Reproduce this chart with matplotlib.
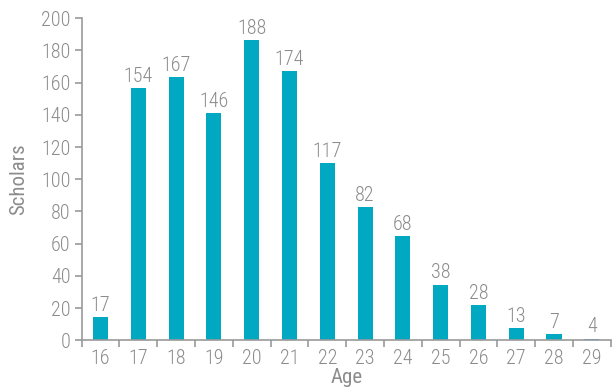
import matplotlib
matplotlib.use("Agg")
import matplotlib.pyplot as plt
import numpy as np

ages = ["16", "17", "18", "19", "20", "21", "22", "23", "24", "25", "26", "27", "28", "29"]
bar_heights = [14.5, 156.5, 163.5, 141, 186.5, 167, 110, 82.5, 64.5, 34.5, 22, 7.5, 4, 1]
label_values = [17, 154, 167, 146, 188, 174, 117, 82, 68, 38, 28, 13, 7, 4]
yticks = [0, 20, 40, 60, 80, 100, 120, 140, 160, 180, 200]

plt.rcParams['font.family'] = ['Roboto Condensed', 'DejaVu Sans']
plt.rcParams['font.weight'] = 'light'

bar_color = "#00A8C2"
text_color = "#8C8C8C"
axis_color = "#9A9A9A"

fig = plt.figure(figsize=(6.16, 3.89), dpi=100)
ax = fig.add_axes([0.1326, 0.1252, 0.9914 - 0.1326, 0.953 - 0.1252])

x = np.arange(len(ages))
ax.bar(x, bar_heights, width=0.4, color=bar_color, zorder=2)

for xi, h, lab in zip(x, bar_heights, label_values):
    ax.annotate(str(lab), (xi, h), xytext=(0, 4.5), textcoords="offset points",
                ha="center", va="baseline", fontsize=14.5, color=text_color)

ax.set_xlim(-0.5, len(ages) - 0.5)
ax.set_ylim(0, 200)
ax.set_yticks(yticks)
ax.set_yticklabels([str(v) for v in yticks])

ax.set_xticks(np.arange(len(ages) + 1) - 0.5)
ax.set_xticklabels([])
ax.set_xticks(x, minor=True)
ax.set_xticklabels(ages, minor=True)
ax.tick_params(axis="x", which="minor", length=0, pad=6, labelsize=14.5, labelcolor=text_color)
ax.tick_params(axis="x", which="major", length=5, width=1.2, color=axis_color, direction="out")
ax.tick_params(axis="y", length=5, width=1.2, color=axis_color, labelsize=14.5, labelcolor=text_color, pad=3)

for s in ["top", "right"]:
    ax.spines[s].set_visible(False)
for s in ["left", "bottom"]:
    ax.spines[s].set_color(axis_color)
    ax.spines[s].set_linewidth(1.2)

ax.set_xlabel("Age", fontsize=15, color=text_color, labelpad=0)
ax.set_ylabel("Scholars", fontsize=15, color=text_color, labelpad=9)

fig.savefig("out.png", dpi=100)
